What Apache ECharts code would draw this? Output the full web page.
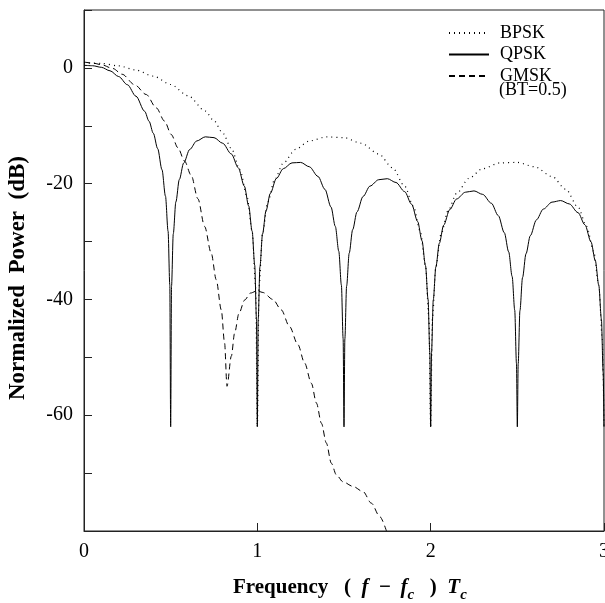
<!DOCTYPE html>
<html><head><meta charset="utf-8">
<script src="https://cdn.jsdelivr.net/npm/echarts@6/dist/echarts.min.js"></script>
<style>html,body{margin:0;padding:0;background:#fff}#c{width:605px;height:603px}</style>
</head><body><div id="c"></div>
<script>
// ---- data ----
const xTickLabels = [0, 1, 2, 3];
const yTickLabels = [0, -20, -40, -60];

const bpskF = [0,0.1,0.2,0.3,0.4,0.5,0.6,0.7,0.75,0.8,0.85,0.9,0.94,0.97,0.99,1,
  1.01,1.03,1.06,1.1,1.15,1.22,1.3,1.4,1.5,1.6,1.7,1.78,1.85,1.9,1.94,1.97,1.99,2,
  2.01,2.03,2.06,2.1,2.15,2.22,2.3,2.4,2.5,2.6,2.7,2.78,2.85,2.9,2.94,2.97,2.99,3];
const bpskDb = [0.86,0.77,0.35,-0.37,-1.42,-2.87,-4.81,-7.46,-9.15,-11.24,-13.91,-17.61,-22.15,-28.18,-37.52,-62,
  -37.7,-28.68,-23.16,-19.28,-16.44,-14.09,-12.63,-11.91,-12.05,-13.02,-14.87,-17.25,-20.42,-23.86,-28.21,-34.1,-43.37,-62,
  -43.45,-34.35,-28.71,-24.7,-21.67,-19.1,-17.41,-16.41,-16.33,-17.08,-18.75,-20.98,-24.03,-27.39,-31.69,-37.54,-46.78,-62];

const qpskF = [0,0.05,0.1,0.15,0.2,0.25,0.3,0.35,0.375,0.4,0.425,0.45,0.47,0.485,0.495,0.5,
  0.505,0.515,0.53,0.55,0.575,0.61,0.65,0.7,0.75,0.8,0.85,0.89,0.925,0.95,0.97,0.985,0.995,1,
  1.005,1.015,1.03,1.05,1.075,1.11,1.15,1.2,1.25,1.3,1.35,1.39,1.425,1.45,1.47,1.485,1.495,1.5,
  1.505,1.515,1.53,1.55,1.575,1.61,1.65,1.7,1.75,1.8,1.85,1.89,1.925,1.95,1.97,1.985,1.995,2,
  2.005,2.015,2.03,2.05,2.075,2.11,2.15,2.2,2.25,2.3,2.35,2.39,2.425,2.45,2.47,2.485,2.495,2.5,
  2.505,2.515,2.53,2.55,2.575,2.61,2.65,2.7,2.75,2.8,2.85,2.89,2.925,2.95,2.97,2.985,2.995,3];
const qpskDb = [0.45,0.37,0.1,-0.5,-1.5,-2.9,-4.9,-7.5,-9.2,-11.3,-13.95,-17.6,-22.15,-28.2,-37.5,-62,
  -37.7,-28.68,-23.16,-19.28,-16.44,-14.09,-12.63,-11.91,-12.05,-13.02,-14.87,-17.25,-20.42,-23.86,-28.21,-34.1,-43.37,-62,
  -43.45,-34.35,-28.71,-24.7,-21.67,-19.1,-17.41,-16.41,-16.33,-17.08,-18.75,-20.98,-24.03,-27.39,-31.69,-37.54,-46.78,-62,
  -46.83,-37.71,-32.02,-27.95,-24.87,-22.21,-20.42,-19.32,-19.14,-19.8,-21.38,-23.55,-26.55,-29.87,-34.13,-39.97,-49.18,-62,
  -49.23,-40.09,-34.38,-30.29,-27.17,-24.48,-22.64,-21.48,-21.25,-21.85,-23.38,-25.51,-28.48,-31.78,-36.03,-41.85,-51.06,-62,
  -51.09,-41.94,-36.23,-32.11,-28.98,-26.26,-24.39,-23.19,-22.92,-23.5,-25.0,-27.1,-30.05,-33.33,-37.57,-43.38,-52.58,-62];

const gmskF = [0,0.05,0.1,0.166,0.22,0.292,0.359,0.417,0.465,0.503,0.542,0.58,0.619,0.657,0.696,0.734,0.763,0.792,0.811,0.825,
  0.85,0.869,0.894,0.927,0.96,1.0,1.032,1.09,1.138,1.186,1.234,1.273,1.312,1.341,1.37,1.398,1.427,1.456,1.494,1.552,1.61,1.658,1.706,1.745];
const gmskDb = [1.0,0.85,0.55,-0.1,-1.1,-2.9,-4.6,-6.9,-9.2,-11.5,-13.8,-16.1,-18.6,-22.6,-27.4,-32,-36.6,-41.8,-47.5,-55,
  -49.8,-45.8,-42.4,-40.1,-38.9,-38.5,-38.8,-40.0,-41.8,-44.7,-47.8,-51,-54.5,-57.9,-61.4,-64.8,-68.3,-70.3,-71.5,-72.3,-73.2,-75.2,-77.5,-80];

const zip = (xs, ys) => xs.map((x, i) => [x, ys[i]]);
const FONT = '"Liberation Serif", "Times New Roman", serif';
const AX = '#222';

const chart = echarts.init(document.getElementById('c'), null, {renderer: 'canvas'});
chart.setOption({
  animation: false,
  backgroundColor: '#fff',
  grid: {left: 84, right: 1, top: 10, bottom: 72, show: true, borderColor: AX, borderWidth: 1,
    backgroundColor: 'transparent', containLabel: false, outerBoundsMode: 'none'},
  xAxis: {
    type: 'value', min: 0, max: 3, interval: 1,
    axisLine: {show: true, onZero: false, lineStyle: {color: AX, width: 1}},
    axisTick: {show: true, inside: true, length: 8, lineStyle: {color: AX}},
    axisLabel: {fontFamily: FONT, fontSize: 20, color: '#000', margin: 11,
      formatter: v => xTickLabels.includes(v) ? String(v) : ''},
    splitLine: {show: false}
  },
  yAxis: {
    type: 'value', min: -80, max: 10, interval: 10,
    axisLine: {show: true, onZero: false, lineStyle: {color: AX, width: 1}},
    axisTick: {show: true, inside: true, length: 8, lineStyle: {color: AX}},
    axisLabel: {fontFamily: FONT, fontSize: 20, color: '#000', margin: 11,
      formatter: v => yTickLabels.includes(v) ? String(v) : ''},
    splitLine: {show: false}
  },
  legend: {
    data: ['BPSK', 'QPSK', 'GMSK'],
    orient: 'vertical', left: 448, top: 24, padding: 0,
    itemWidth: 40, itemHeight: 12, itemGap: 3.5,
    itemStyle: {opacity: 0},
    textStyle: {fontFamily: FONT, fontSize: 18, color: '#000', lineHeight: 18, padding: [0, 0, 0, 6]}
  },
  graphic: [
    {type: 'text', left: 499, top: 81, style: {text: '(BT=0.5)', fontFamily: FONT, fontSize: 18, fill: '#000'}},
    {type: 'text', x: 18, y: 278, rotation: Math.PI / 2,
      style: {text: 'Normalized  Power  (dB)', fontFamily: FONT, fontSize: 23, fontWeight: 'bold', fill: '#000', align: 'center', verticalAlign: 'middle'}},
    {type: 'text', x: 233, y: 588,
      style: {
        text: '{b|Frequency   (  }{i|f}{b|  − \u2009}{i|f}{s|c}{b|   )  }{i|T}{s|c}',
        align: 'left', verticalAlign: 'middle',
        rich: {
          b: {fontFamily: FONT, fontSize: 21, fontWeight: 'bold', fill: '#000', lineHeight: 30, verticalAlign: 'middle'},
          i: {fontFamily: FONT, fontSize: 21, fontWeight: 'bold', fontStyle: 'italic', fill: '#000', lineHeight: 30, verticalAlign: 'middle'},
          s: {fontFamily: FONT, fontSize: 15, fontWeight: 'bold', fontStyle: 'italic', fill: '#000', lineHeight: 30, verticalAlign: 'bottom'}
        }
      }}
  ],
  series: [
    {name: 'BPSK', type: 'line', data: zip(bpskF, bpskDb), showSymbol: false, symbol: 'none', smooth: 0.3, smoothMonotone: 'x',
      lineStyle: {color: '#000', width: 1.2, type: [1, 4]}, itemStyle: {color: '#000'}, clip: true},
    {name: 'QPSK', type: 'line', data: zip(qpskF, qpskDb), showSymbol: false, symbol: 'none', smooth: 0.3, smoothMonotone: 'x',
      lineStyle: {color: '#000', width: 1}, itemStyle: {color: '#000'}, clip: true},
    {name: 'GMSK', type: 'line', data: zip(gmskF, gmskDb), showSymbol: false, symbol: 'none', smooth: 0.3, smoothMonotone: 'x',
      lineStyle: {color: '#000', width: 1, type: [6, 4]}, itemStyle: {color: '#000'}, clip: true}
  ]
});
</script></body></html>
